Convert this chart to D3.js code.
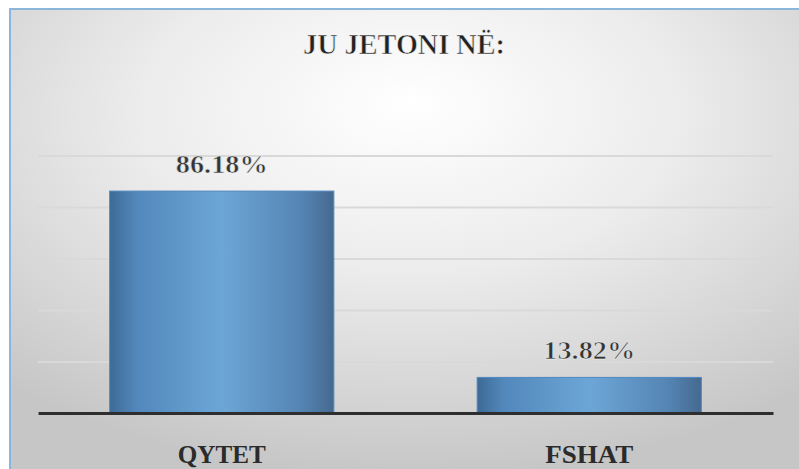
<!DOCTYPE html>
<html>
<head>
<meta charset="utf-8">
<script src="https://cdn.jsdelivr.net/npm/d3@7"></script>
<style>
  body { margin: 0; background: #fff; }
  svg { display: block; }
  text { font-family: 'Liberation Serif', 'DejaVu Serif', serif; }
</style>
</head>
<body>
<div id="chart"></div>
<script>
// Chart data
const categories = ["QYTET", "FSHAT"];
const values = [86.18, 13.82];
const valueLabels = ["86.18%", "13.82%"];
const gridTicks = [0, 20, 40, 60, 80, 100];
const chartTitle = "JU JETONI NË:";

const svgWidth = 799;
const svgHeight = 469;

// Plot area bounds (pixels)
const margin = { top: 155.5, left: 38, right: 26, bottom: 56 };
const width = svgWidth - margin.left - margin.right;
const height = svgHeight - margin.top - margin.bottom;

const svg = d3.select("#chart")
    .append("svg")
    .attr("width", svgWidth)
    .attr("height", svgHeight);

const defs = svg.append("defs");

// Background gradient: light centre, grey edges (user space so text can reuse it)
const bg = defs.append("radialGradient")
    .attr("id", "bgGrad")
    .attr("gradientUnits", "userSpaceOnUse")
    .attr("gradientTransform", `translate(10,9) scale(${svgWidth},${svgHeight})`)
    .attr("cx", 0.5).attr("cy", 0.25)
    .attr("r", 0.75)
    .attr("fx", 0.5).attr("fy", 0.2);
bg.append("stop").attr("offset", "0%").attr("stop-color", "#ffffff");
bg.append("stop").attr("offset", "45%").attr("stop-color", "#ececec");
bg.append("stop").attr("offset", "100%").attr("stop-color", "#c6c6c6");

// Bar gradient: dark sides, lighter middle
const barGrad = defs.append("linearGradient")
    .attr("id", "barGrad")
    .attr("x1", "0%").attr("x2", "100%")
    .attr("y1", "0%").attr("y2", "0%");
barGrad.append("stop").attr("offset", "0%").attr("stop-color", "#3e6a96");
barGrad.append("stop").attr("offset", "12%").attr("stop-color", "#5288bb");
barGrad.append("stop").attr("offset", "50%").attr("stop-color", "#6ca6d7");
barGrad.append("stop").attr("offset", "85%").attr("stop-color", "#5585b4");
barGrad.append("stop").attr("offset", "100%").attr("stop-color", "#45698f");

// Chart frame
svg.append("rect")
    .attr("x", 10)
    .attr("y", 9)
    .attr("width", svgWidth)
    .attr("height", svgHeight)
    .attr("fill", "url(#bgGrad)")
    .attr("stroke", "#8ab6db")
    .attr("stroke-width", 2);

const chartGroup = svg.append("g")
    .attr("transform", `translate(${margin.left}, ${margin.top})`);

// Scales
const xScale = d3.scaleBand()
    .domain(categories)
    .range([0, width])
    .paddingInner(0.39)
    .paddingOuter(0.195);

const yScale = d3.scaleLinear()
    .domain([0, 100])
    .range([height, 0]);

// Gridlines
chartGroup.append("g")
    .attr("class", "grid")
    .call(d3.axisLeft(yScale).tickValues(gridTicks).tickSize(-width).tickFormat(""))
    .call(g => g.select(".domain").remove())
    .selectAll("line")
    .attr("stroke", "#d9d9d9")
    .attr("stroke-width", 2);

// Bars
chartGroup.selectAll(".bar")
    .data(values)
    .enter()
    .append("rect")
    .attr("class", "bar")
    .attr("x", (d, i) => xScale(categories[i]))
    .attr("y", d => yScale(d))
    .attr("width", xScale.bandwidth())
    .attr("height", d => height - yScale(d))
    .attr("fill", "url(#barGrad)")
    .attr("stroke", "#4f88c0")
    .attr("stroke-width", 1);

// Value labels (bold face thinned with a background-coloured stroke)
chartGroup.selectAll(".valueLabel")
    .data(values)
    .enter()
    .append("text")
    .attr("class", "valueLabel")
    .attr("x", (d, i) => xScale(categories[i]) + xScale.bandwidth() / 2)
    .attr("y", d => yScale(d) - 18)
    .attr("text-anchor", "middle")
    .attr("font-size", "25px")
    .attr("font-weight", 600)
    .attr("fill", "#333")
    .attr("stroke", "url(#bgGrad)")
    .attr("stroke-width", 0.55)
    .attr("textLength", 92)
    .attr("lengthAdjust", "spacingAndGlyphs")
    .text((d, i) => valueLabels[i]);

// X axis line
chartGroup.append("g")
    .attr("transform", `translate(0, ${height})`)
    .call(d3.axisBottom(xScale).tickSize(0).tickFormat(""))
    .select(".domain")
    .attr("stroke", "#2e2e2e")
    .attr("stroke-width", 3);

// Category labels
chartGroup.selectAll(".catLabel")
    .data(categories)
    .enter()
    .append("text")
    .attr("class", "catLabel")
    .attr("x", d => xScale(d) + xScale.bandwidth() / 2)
    .attr("y", height + 50)
    .attr("text-anchor", "middle")
    .attr("font-weight", "bold")
    .attr("font-size", "25px")
    .attr("fill", "#2b2b2b")
    .attr("textLength", 88)
    .attr("lengthAdjust", "spacingAndGlyphs")
    .text(d => d);

// Title
svg.append("text")
    .attr("x", 404)
    .attr("y", 54)
    .attr("text-anchor", "middle")
    .attr("font-size", "29px")
    .attr("font-weight", 600)
    .attr("fill", "#222")
    .attr("stroke", "url(#bgGrad)")
    .attr("stroke-width", 0.65)
    .attr("textLength", 202)
    .attr("lengthAdjust", "spacingAndGlyphs")
    .text(chartTitle);
</script>
</body>
</html>
